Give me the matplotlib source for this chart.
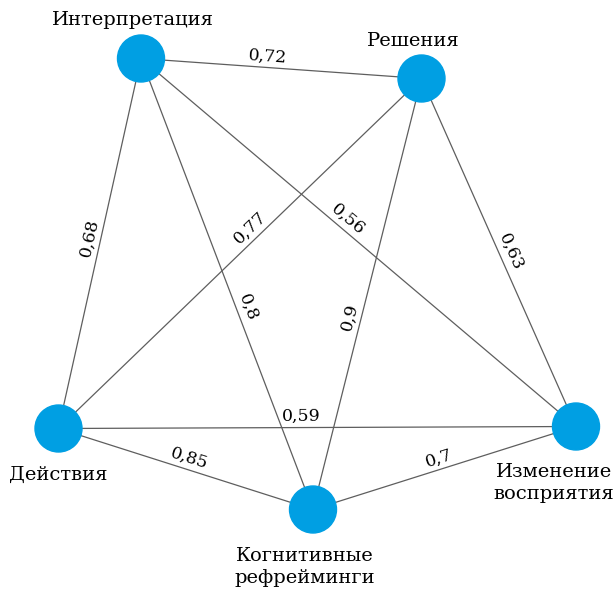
import numpy as np
import matplotlib
matplotlib.use("Agg")
import matplotlib.pyplot as plt

# nodes and their labels
nodes = ["Интерпретация", "Решения", "Действия", "Изменение\nвосприятия",
         "Когнитивные\nрефрейминги"]
# edges: source, target, weight (text runs source -> target)
edge_src = [0, 2, 2, 0, 0, 4, 1, 2, 2, 4]
edge_dst = [1, 0, 1, 3, 4, 1, 3, 3, 4, 3]
weights = [0.72, 0.68, 0.77, 0.56, 0.8, 0.9, 0.63, 0.59, 0.85, 0.7]
# where along the edge the label sits
label_t = [0.45, 0.51, 0.55, 0.46, 0.56, 0.44, 0.51, 0.47, 0.5, 0.49]

# layout (pixels, y down)
pos = {0: (141, 58.5), 1: (421.5, 78.5), 2: (58.5, 428.5), 3: (576, 426.5), 4: (313, 509.5)}
name_pos = {0: (133, 20), 1: (413, 41), 2: (58, 475), 3: (554, 483), 4: (305, 567)}

W, H = 615, 592
fig = plt.figure(figsize=(W / 100, H / 100), dpi=100)
ax = fig.add_axes([0, 0, 1, 1])
ax.set_xlim(0, W)
ax.set_ylim(H, 0)
ax.axis("off")

font = "DejaVu Serif"

for s, d, w, t in zip(edge_src, edge_dst, weights, label_t):
    x0, y0 = pos[s]
    x1, y1 = pos[d]
    ax.plot([x0, x1], [y0, y1], color="#5e5e5e", lw=0.9, zorder=1)
    dx, dy = x1 - x0, y1 - y0
    theta = np.arctan2(-dy, dx)
    off = 11
    lx = x0 + t * dx - off * np.sin(theta)
    ly = y0 + t * dy - off * np.cos(theta)
    ax.text(lx, ly, f"{w:g}".replace(".", ","), rotation=np.degrees(theta),
            rotation_mode="anchor", ha="center", va="center",
            fontsize=12.5, family=font, color="#000000", zorder=3)

for i, name in enumerate(nodes):
    ax.add_patch(plt.Circle(pos[i], 23.5, color="#009fe3", zorder=2))
    nx, ny = name_pos[i]
    ax.text(nx, ny, name, ha="center", va="center", fontsize=14,
            family=font, color="#000000", linespacing=1.3)

fig.savefig("out.png", dpi=100)
